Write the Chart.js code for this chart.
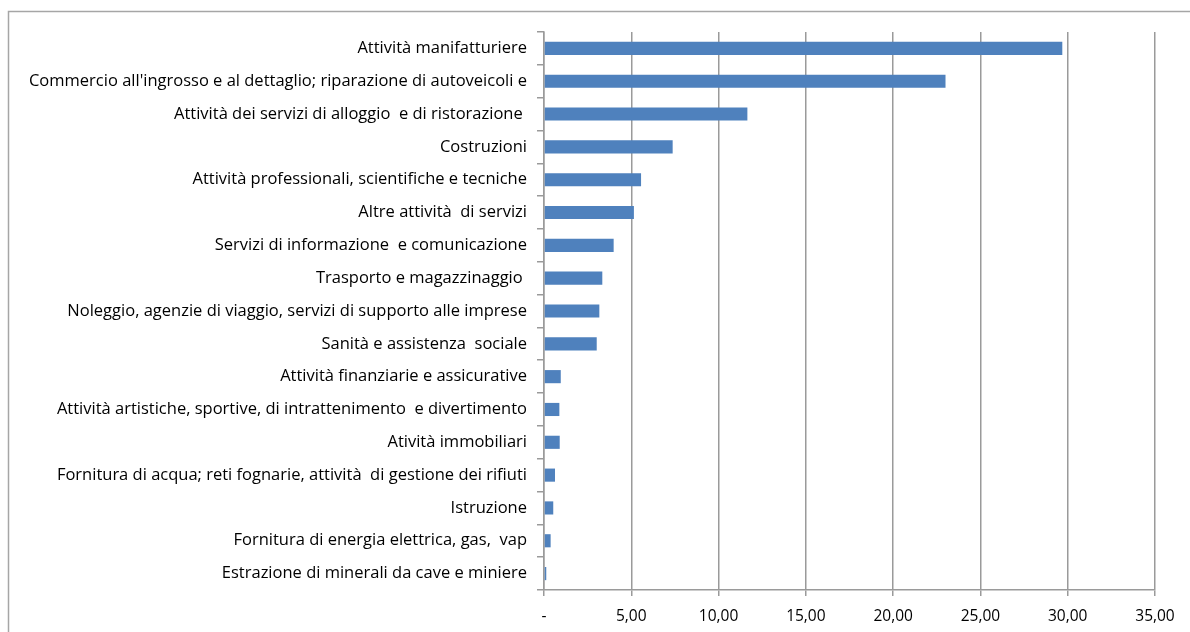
<!DOCTYPE html>
<html><head><meta charset="utf-8">
<script src="https://cdn.jsdelivr.net/npm/chart.js@4"></script>
<style>html,body{margin:0;padding:0;background:#fff}#wrap{width:1190px;height:632px;position:relative}</style>
</head><body><div id="wrap"><canvas id="c" width="1190" height="632"></canvas></div>
<script>
const categories = [
  "Attività manifatturiere",
  "Commercio all'ingrosso e al dettaglio; riparazione di autoveicoli e",
  "Attività dei servizi di alloggio  e di ristorazione ",
  "Costruzioni",
  "Attività professionali, scientifiche e tecniche",
  "Altre attività  di servizi",
  "Servizi di informazione  e comunicazione",
  "Trasporto e magazzinaggio ",
  "Noleggio, agenzie di viaggio, servizi di supporto alle imprese",
  "Sanità e assistenza  sociale",
  "Attività finanziarie e assicurative",
  "Attività artistiche, sportive, di intrattenimento  e divertimento",
  "Atività immobiliari",
  "Fornitura di acqua; reti fognarie, attività  di gestione dei rifiuti",
  "Istruzione",
  "Fornitura di energia elettrica, gas,  vap",
  "Estrazione di minerali da cave e miniere"
];
const values = [29.69, 23.0, 11.65, 7.37, 5.56, 5.15, 3.99, 3.34, 3.17, 3.02, 0.96, 0.88, 0.90, 0.63, 0.53, 0.38, 0.13];
const xMin = 0, xMax = 35, xStep = 5;

const frame = {
  id: 'frame',
  beforeDraw(chart) {
    const ctx = chart.ctx;
    ctx.save();
    ctx.fillStyle = '#fff';
    ctx.fillRect(0, 0, chart.width, chart.height);
    ctx.strokeStyle = '#a6a6a6';
    ctx.lineWidth = 1.5;
    ctx.strokeRect(8.5, 11.5, 1300, 800);
    ctx.restore();
  }
};

const gridColor = '#9a9a9a';
const labelFont = { family: "'Open Sans'", size: 16.5 };
new Chart(document.getElementById('c'), {
  type: 'bar',
  data: {
    labels: categories,
    datasets: [{
      data: values,
      backgroundColor: '#4f81bd',
      borderColor: '#6f97c8',
      borderWidth: 0,
      categoryPercentage: 1,
      barPercentage: 0.4
    }]
  },
  plugins: [frame],
  options: {
    indexAxis: 'y',
    responsive: false,
    animation: false,
    layout: { padding: { top: 32, right: 35, left: 0, bottom: 0 } },
    plugins: { legend: { display: false }, tooltip: { enabled: false } },
    scales: {
      x: {
        min: xMin, max: xMax,
        ticks: {
          stepSize: xStep,
          color: '#000',
          font: { family: "'Open Sans'", size: 15.5 },
          padding: 11,
          maxRotation: 0,
          callback: v => v === 0 ? '-' : v.toFixed(2).replace('.', ',')
        },
        grid: { color: gridColor, lineWidth: 1.5, tickLength: 6, drawTicks: true },
        border: { color: gridColor, width: 1.5 },
        afterFit: s => { s.height = 42; }
      },
      y: {
        ticks: {
          color: '#000',
          font: labelFont,
          padding: 10,
          autoSkip: false
        },
        grid: { drawOnChartArea: false, offset: true, color: gridColor, lineWidth: 1.5, tickLength: 7 },
        border: { color: gridColor, width: 1.5 },
        afterFit: s => { s.width = 544; }
      }
    }
  }
});
</script>
</body></html>
